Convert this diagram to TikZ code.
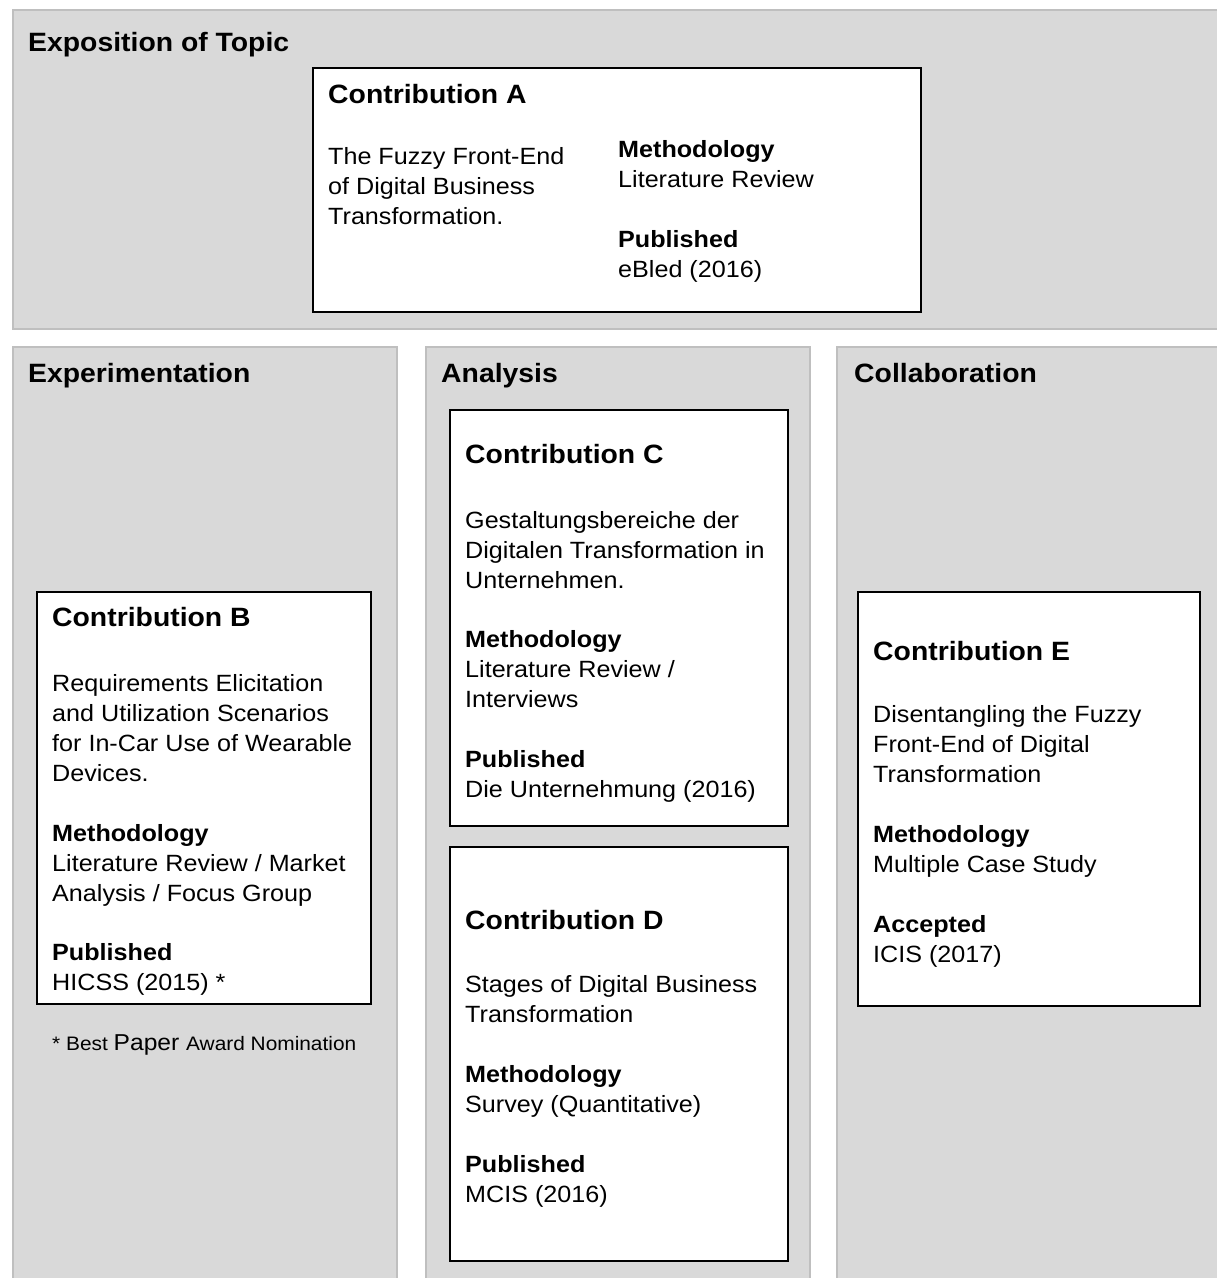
\documentclass[tikz,border=0pt]{standalone}
\usepackage{fontspec}
\setmainfont{Liberation Sans}[FakeStretch=1.07]
\definecolor{panelgray}{HTML}{D9D9D9}
\definecolor{panelline}{HTML}{BFBFBF}
\tikzset{
  panel/.style={fill=panelgray, draw=panelline, line width=1.2pt},
  cbox/.style={fill=white, draw=black, line width=1.8pt},
  heading/.style={anchor=base west, inner sep=0pt, font=\bfseries\fontsize{26.5}{30}\selectfont},
  ctitle/.style={anchor=base west, inner sep=0pt, font=\bfseries\fontsize{26.5}{30}\selectfont},
  body/.style={anchor=base west, inner sep=0pt, align=left, font=\fontsize{23.5}{30}\selectfont},
}
\begin{document}
\begin{tikzpicture}[x=1pt,y=-1pt]
\useasboundingbox (0,0) rectangle (1217,1278);
\clip (0,0) rectangle (1217,1278);
% panels
\draw[panel] (13,10) rectangle (1225,329);
\draw[panel] (13,347) rectangle (397,1290);
\draw[panel] (426,347) rectangle (810,1290);
\draw[panel] (837,347) rectangle (1225,1290);
% headings
\node[heading] (hExp) at (28,51) {Exposition of Topic};
\node[heading] (hExq) at (28,382) {Experimentation};
\node[heading] (hAna) at (441,382) {Analysis};
\node[heading] (hCol) at (854,382) {Collaboration};
% boxes
\draw[cbox] (313,68) rectangle (921,312);
\draw[cbox] (37,592) rectangle (371,1004);
\draw[cbox] (450,410) rectangle (788,826);
\draw[cbox] (450,847) rectangle (788,1261);
\draw[cbox] (858,592) rectangle (1200,1006);
% Contribution A (anchors at the baseline of the last line)
\node[ctitle] (aT) at (328,103) {Contribution A};
\node[body] (aB) at (328,224) {The Fuzzy Front-End\\of Digital Business\\Transformation.};
\node[body] (aM) at (618,187) {\textbf{Methodology}\\Literature Review};
\node[body] (aP) at (618,277) {\textbf{Published}\\eBled (2016)};
% Contribution B
\node[ctitle] (bT) at (52,626) {Contribution B};
\node[body] (bB) at (52,781) {Requirements Elicitation\\and Utilization Scenarios\\for In-Car Use of Wearable\\Devices.};
\node[body] (bM) at (52,901) {\textbf{Methodology}\\Literature Review / Market\\Analysis / Focus Group};
\node[body] (bP) at (52,990) {\textbf{Published}\\HICSS (2015) *};
\node[anchor=base west, inner sep=0pt] (bN) at (52,1050)
  {\fontsize{19.5}{24}\selectfont * Best \fontsize{23}{24}\selectfont Paper \fontsize{19.5}{24}\selectfont Award Nomination};
% Contribution C
\node[ctitle] (cT) at (465,463) {Contribution C};
\node[body] (cB) at (465,588) {Gestaltungsbereiche der\\Digitalen Transformation in\\Unternehmen.};
\node[body] (cM) at (465,707) {\textbf{Methodology}\\Literature Review /\\Interviews};
\node[body] (cP) at (465,797) {\textbf{Published}\\Die Unternehmung (2016)};
% Contribution D
\node[ctitle] (dT) at (465,929) {Contribution D};
\node[body] (dB) at (465,1022) {Stages of Digital Business\\Transformation};
\node[body] (dM) at (465,1112) {\textbf{Methodology}\\Survey (Quantitative)};
\node[body] (dP) at (465,1202) {\textbf{Published}\\MCIS (2016)};
% Contribution E
\node[ctitle] (eT) at (873,660) {Contribution E};
\node[body] (eB) at (873,782) {Disentangling the Fuzzy\\Front-End of Digital\\Transformation};
\node[body] (eM) at (873,872) {\textbf{Methodology}\\Multiple Case Study};
\node[body] (eP) at (873,962) {\textbf{Accepted}\\ICIS (2017)};
\end{tikzpicture}
\end{document}
